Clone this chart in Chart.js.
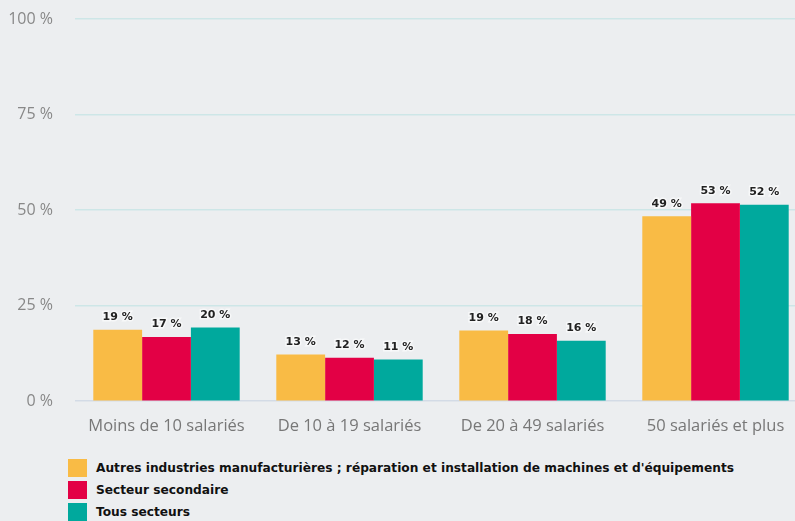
<!DOCTYPE html>
<html>
<head>
<meta charset="utf-8">
<script src="https://cdn.jsdelivr.net/npm/chart.js@4"></script>
<style>
  html, body { margin: 0; padding: 0; background: #eceef0; overflow: hidden; }
  #wrap { position: relative; width: 807px; height: 443px; }
  #legend { position: absolute; left: 68px; top: 459px; font-family: "DejaVu Sans", sans-serif; font-weight: bold; font-size: 12.2px; color: #111; }
  .item { display: flex; align-items: center; height: 18px; margin-bottom: 4px; }
  .sw { width: 19px; height: 18px; margin-right: 9px; }
</style>
</head>
<body>
<div id="wrap"><canvas id="chart"></canvas></div>
<div id="legend"></div>
<script>
const categories = ['Moins de 10 salariés', 'De 10 à 19 salariés', 'De 20 à 49 salariés', '50 salariés et plus'];
const seriesNames = [
  "Autres industries manufacturières ; réparation et installation de machines et d'équipements",
  'Secteur secondaire',
  'Tous secteurs'
];
const autresValues = [18.7, 12.2, 18.5, 48.4];
const secondaireValues = [16.8, 11.4, 17.6, 51.8];
const tousValues = [19.3, 10.9, 15.8, 51.4];
// étiquettes affichées au-dessus des barres
const autresLabels = [19, 13, 19, 49];
const secondaireLabels = [17, 12, 18, 53];
const tousLabels = [20, 11, 16, 52];
const yTicks = [0, 25, 50, 75, 100];
const colors = ['#f9bb45', '#e30045', '#00a99d'];

const valueLabels = [autresLabels, secondaireLabels, tousLabels];

// petites étiquettes en gras au-dessus de chaque barre
const barLabels = {
  id: 'barLabels',
  afterDatasetsDraw(chart) {
    const ctx = chart.ctx;
    ctx.save();
    ctx.font = 'bold 11px "DejaVu Sans", sans-serif';
    ctx.textAlign = 'center';
    ctx.textBaseline = 'bottom';
    chart.data.datasets.forEach((ds, i) => {
      chart.getDatasetMeta(i).data.forEach((bar, j) => {
        const txt = valueLabels[i][j] + ' %';
        ctx.lineWidth = 3;
        ctx.strokeStyle = 'rgba(255,255,255,0.6)';
        ctx.strokeText(txt, bar.x, bar.y - 7);
        ctx.fillStyle = '#222';
        ctx.fillText(txt, bar.x, bar.y - 7);
      });
    });
    ctx.restore();
  }
};

const chart = new Chart(document.getElementById('chart'), {
  type: 'bar',
  data: {
    labels: categories,
    datasets: [
      { label: seriesNames[0], data: autresValues, backgroundColor: colors[0] },
      { label: seriesNames[1], data: secondaireValues, backgroundColor: colors[1] },
      { label: seriesNames[2], data: tousValues, backgroundColor: colors[2] }
    ]
  },
  options: {
    responsive: true,
    maintainAspectRatio: false,
    animation: false,
    layout: { padding: { top: 19, left: 0, right: 0, bottom: 0 } },
    datasets: { bar: { barPercentage: 1, categoryPercentage: 0.8 } },
    plugins: { legend: { display: false }, tooltip: { enabled: false } },
    scales: {
      x: {
        grid: { display: false },
        border: { display: false },
        ticks: { color: '#777', padding: 7, font: { family: '"Open Sans", sans-serif', size: 16.5 } }
      },
      y: {
        min: 0,
        max: 100,
        afterFit(scale) { scale.width = 75; },
        afterBuildTicks(scale) { scale.ticks = yTicks.map(v => ({ value: v })); },
        border: { display: false },
        grid: {
          tickLength: 22,
          tickColor: 'transparent',
          color: ctx => ctx.tick && ctx.tick.value === 0 ? '#d3dbe6' : '#cde6e7',
          lineWidth: 1.5
        },
        ticks: {
          padding: 0,
          color: '#888',
          font: { family: '"Open Sans", sans-serif', size: 16 },
          callback: v => v + ' %'
        }
      }
    }
  },
  plugins: [barLabels]
});

// légende verticale en bas à gauche
const legendDiv = document.getElementById('legend');
chart.data.datasets.forEach(ds => {
  const row = document.createElement('div');
  row.className = 'item';
  row.innerHTML = `<span class="sw" style="background:${ds.backgroundColor}"></span><span>${ds.label}</span>`;
  legendDiv.appendChild(row);
});
</script>
</body>
</html>
